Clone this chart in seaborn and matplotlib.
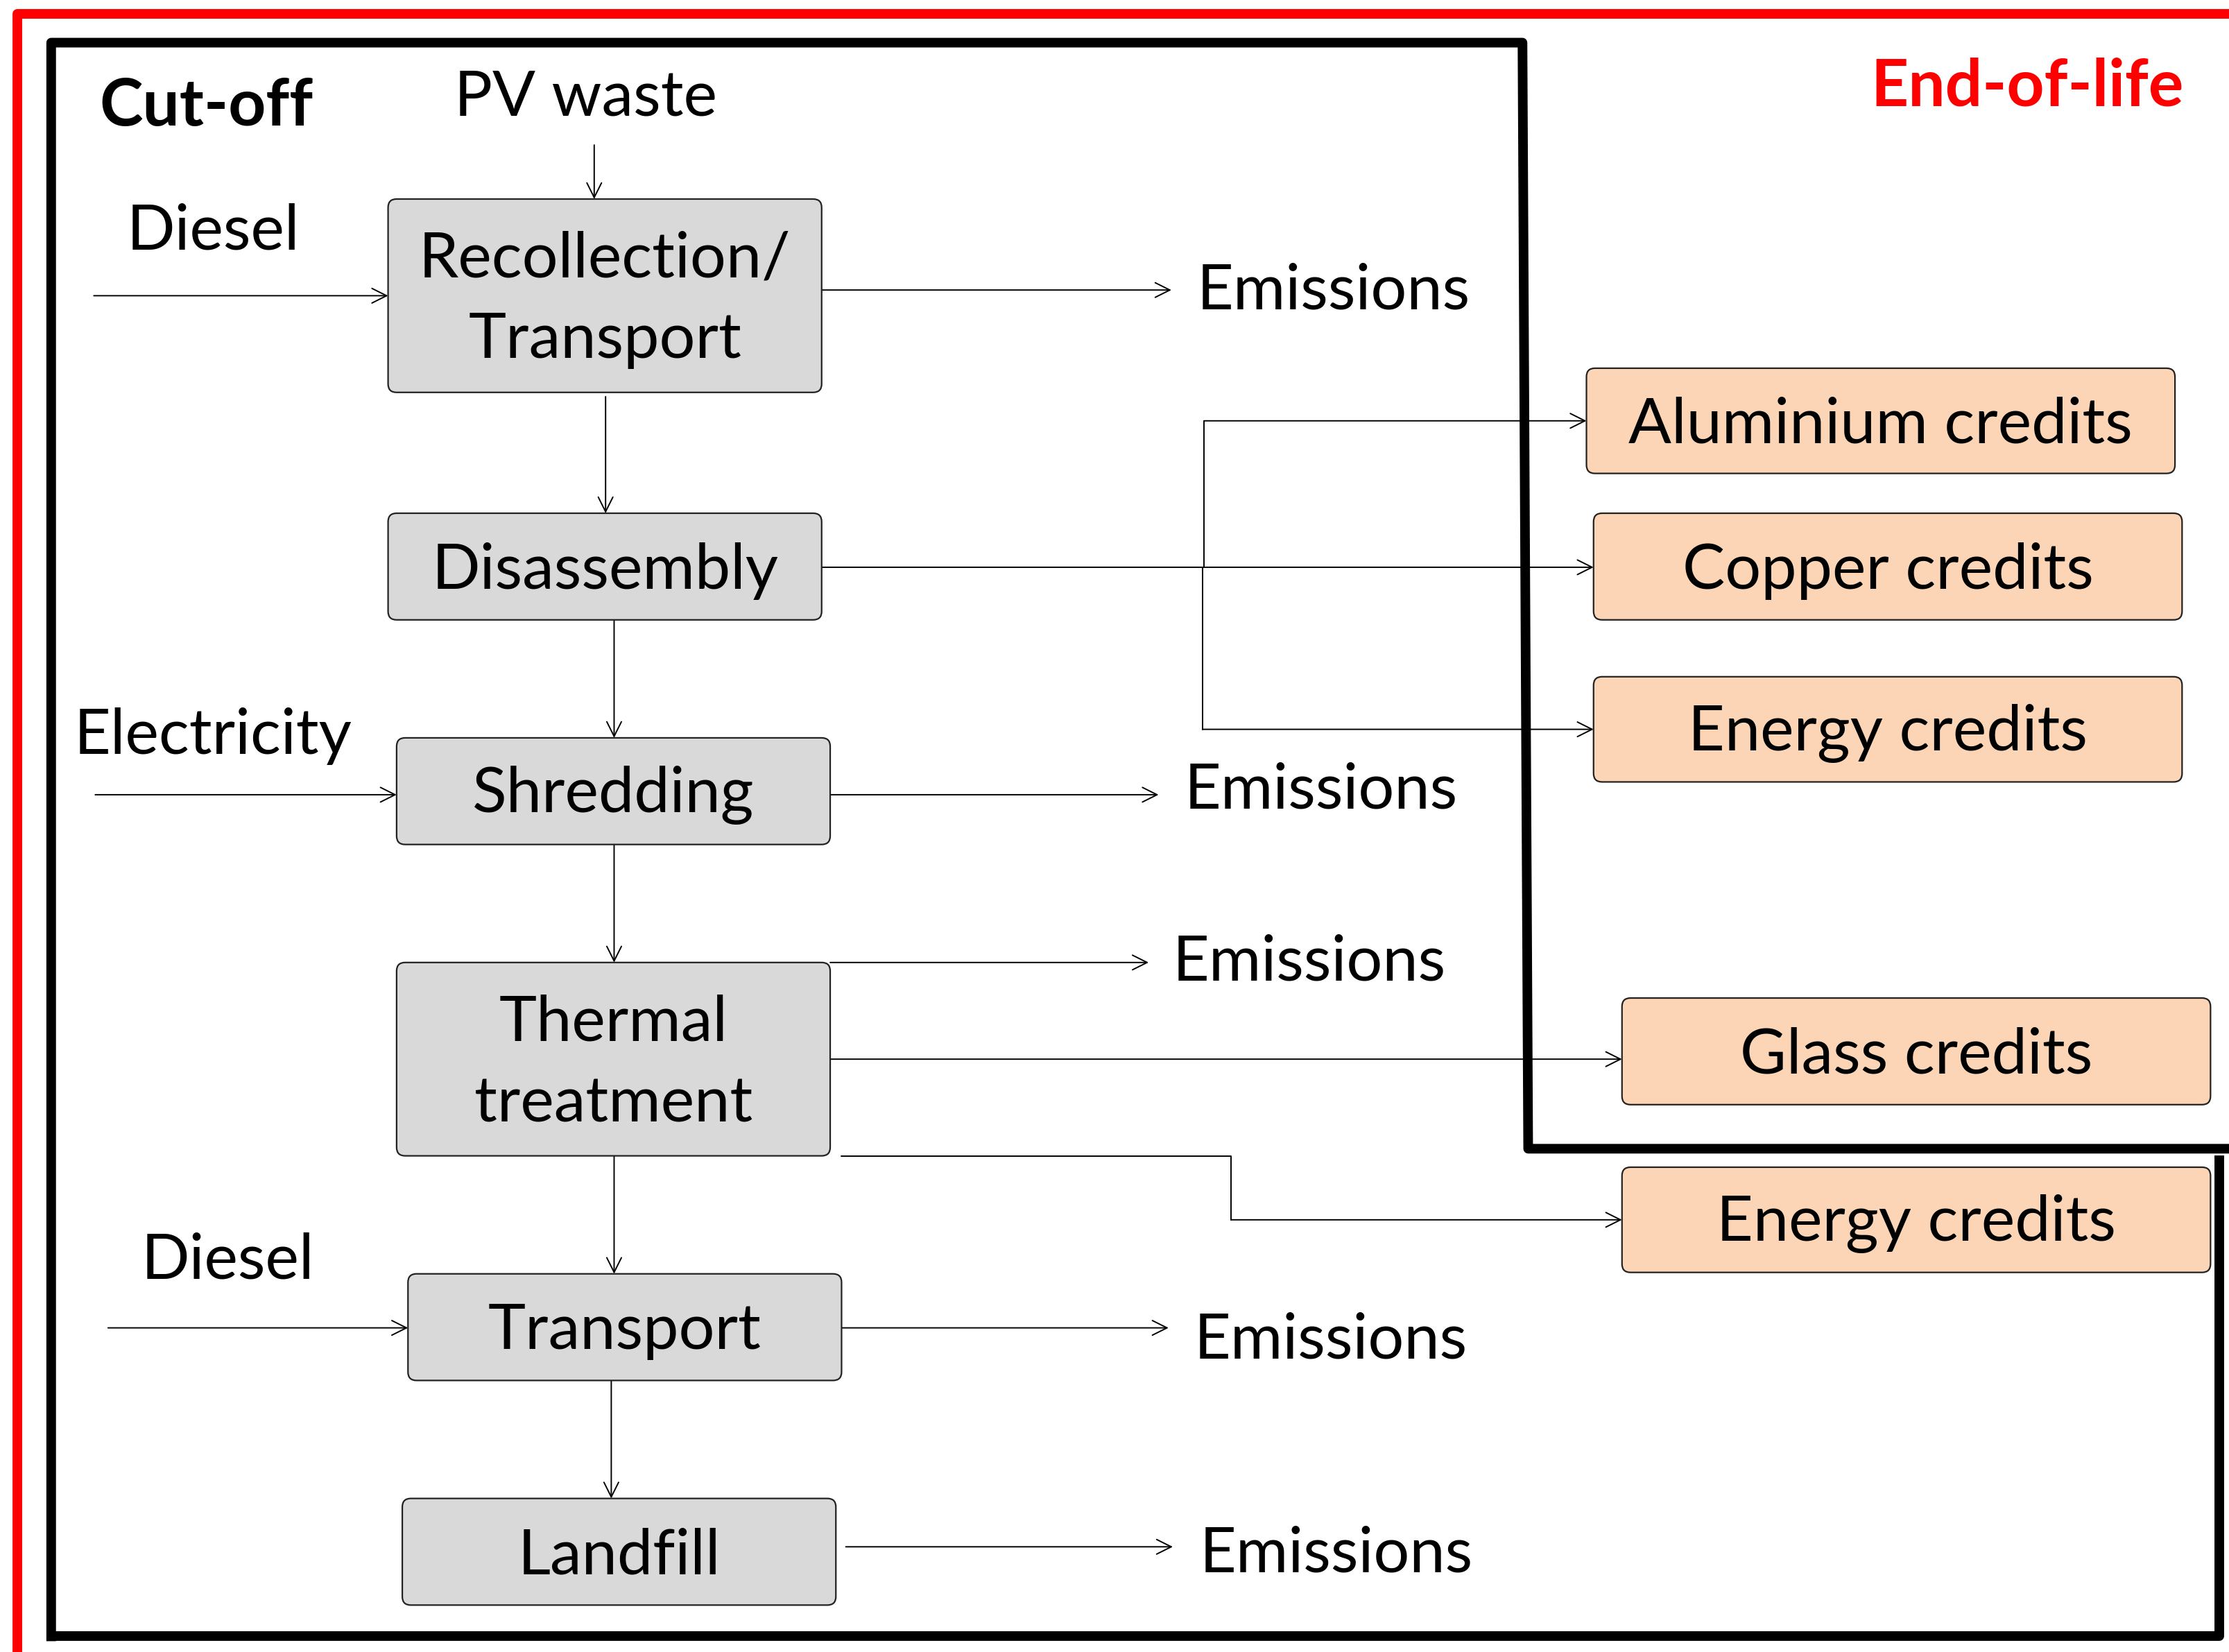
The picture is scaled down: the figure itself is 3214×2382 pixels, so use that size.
import matplotlib
matplotlib.use("Agg")
import matplotlib.pyplot as plt
import seaborn as sns
from matplotlib.patches import FancyBboxPatch

# canvas units follow the reference picture (1568 x 1162, y downwards)
W, H = 1568, 1162

# process boxes (grey)
process_labels = ["Recollection/\nTransport", "Disassembly", "Shredding",
                  "Thermal\ntreatment", "Transport", "Landfill"]
process_x = [273, 273, 279, 279, 287, 283]
process_y = [140, 361, 519, 677, 896, 1054]
process_w = [305, 305, 305, 305, 305, 305]
process_h = [136, 75, 75, 136, 75, 75]

# credit boxes (peach)
credit_labels = ["Aluminium credits", "Copper credits", "Energy credits",
                 "Glass credits", "Energy credits"]
credit_x = [1116, 1121, 1121, 1141, 1141]
credit_y = [259, 361, 476, 702, 821]
credit_w = [414, 414, 414, 414, 414]
credit_h = [74, 75, 74, 75, 74]

# inputs on the left
input_labels = ["Diesel", "Electricity", "Diesel"]
input_text_xy = [(150, 160), (150, 515), (160, 884)]
input_arrows = [((66, 208), (273, 208)), ((67, 559), (279, 559)),
                ((76, 934), (287, 934))]

# emissions on the right
emission_text_xy = [(842, 202), (833, 553), (825, 674), (840, 940), (844, 1090)]
emission_arrows = [((578, 204), (824, 204)), ((584, 559), (815, 559)),
                   ((584, 677), (808, 677)), ((592, 934), (822, 934)),
                   ((595, 1088), (825, 1088))]

# vertical flow between processes
flow_arrows = [((418, 102), (418, 140)), ((426, 279), (426, 361)),
               ((432, 436), (432, 519)), ((432, 594), (432, 677)),
               ((432, 813), (432, 896)), ((430, 971), (430, 1054))]

# credit arrows (straight parts ending at a credit box)
credit_arrows = [((847, 296), (1116, 296)), ((578, 399), (1121, 399)),
                 ((846, 513), (1121, 513)), ((584, 745), (1141, 745)),
                 ((866, 858), (1141, 858))]
# plain connector lines
connector_lines = [([847, 847], [296, 399]), ([846, 846], [399, 513]),
                   ([592, 866, 866], [813, 813, 858])]

FONT = ["Lato", "DejaVu Sans"]
FS = 66
DY = 3  # small downward nudge so text sits like the original

sns.set_theme(style="white")
plt.rcParams["font.family"] = FONT
plt.rcParams["text.color"] = "black"

fig = plt.figure(figsize=(32.14, 23.82), dpi=100)
ax = fig.add_axes([0, 0, 1, 1])
ax.set_xlim(0, W)
ax.set_ylim(H, 0)
ax.axis("off")

# frames
red = "#FF0000"
ax.plot([12, 12, W + 10], [H + 10, 10, 10], color=red, lw=10, solid_capstyle="butt")
blk = dict(color="black", lw=10, solid_capstyle="projecting")
ax.plot([36, 36, 1071, 1075, W + 10], [1151, 30, 30, 808, 808], **blk)
ax.plot([36, 1561, 1561], [1151, 1151, 816], **blk)

arrow_kw = dict(arrowstyle="->", color="black", lw=1.4,
                shrinkA=0, shrinkB=0, mutation_scale=38)


def arrow(p0, p1):
    ax.annotate("", xy=p1, xytext=p0, arrowprops=arrow_kw)


for xs, ys in connector_lines:
    ax.plot(xs, ys, color="black", lw=1.4)
for a in flow_arrows + input_arrows + emission_arrows + credit_arrows:
    arrow(*a)


def box(x, y, w, h, fc, label):
    p = FancyBboxPatch((x, y), w, h, boxstyle="round,pad=0,rounding_size=6",
                       fc=fc, ec="#222222", lw=1.6, zorder=3)
    ax.add_patch(p)
    ax.text(x + w / 2, y + h / 2 + DY, label, ha="center", va="center",
            fontsize=FS, linespacing=1.5, zorder=4)


for lab, x, y, w, h in zip(process_labels, process_x, process_y, process_w, process_h):
    box(x, y, w, h, "#D9D9D9", lab)
for lab, x, y, w, h in zip(credit_labels, credit_x, credit_y, credit_w, credit_h):
    box(x, y, w, h, "#FBD5B5", lab)

for lab, (x, y) in zip(input_labels, input_text_xy):
    ax.text(x, y + DY, lab, ha="center", va="center", fontsize=FS)
for x, y in emission_text_xy:
    ax.text(x, y + DY, "Emissions", ha="left", va="center", fontsize=FS)

ax.text(412, 66 + DY, "PV waste", ha="center", va="center", fontsize=FS)
ax.text(70, 72 + DY, "Cut-off", ha="left", va="center", fontsize=FS + 2, fontweight="bold")
ax.text(1536, 58 + DY, "End-of-life", ha="right", va="center", fontsize=FS + 2,
        fontweight="bold", color=red)

fig.savefig("out.png", dpi=100, facecolor="white")
